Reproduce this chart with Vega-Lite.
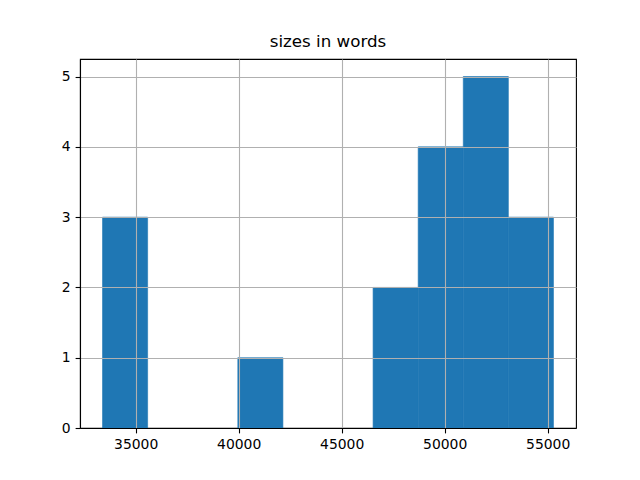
{
  "$schema": "https://vega.github.io/schema/vega-lite/v6.json",
  "width": 496,
  "height": 369,
  "autosize": {"type": "none"},
  "padding": {"left": 80, "top": 59, "right": 64, "bottom": 52},
  "background": "white",
  "config": {
    "font": "DejaVu Sans",
    "view": {"stroke": "black", "strokeWidth": 1.1}
  },
  "title": {
    "text": "sizes in words",
    "fontSize": 16.7,
    "fontWeight": "normal",
    "font": "DejaVu Sans",
    "color": "black",
    "anchor": "middle",
    "offset": 8
  },
  "data": {
    "values": [
      {"x0": 33390, "x1": 35579, "count": 3},
      {"x0": 35579, "x1": 37768, "count": 0},
      {"x0": 37768, "x1": 39957, "count": 0},
      {"x0": 39957, "x1": 42146, "count": 1},
      {"x0": 42146, "x1": 44335, "count": 0},
      {"x0": 44335, "x1": 46524, "count": 0},
      {"x0": 46524, "x1": 48713, "count": 2},
      {"x0": 48713, "x1": 50902, "count": 4},
      {"x0": 50902, "x1": 53091, "count": 5},
      {"x0": 53091, "x1": 55280, "count": 3}
    ]
  },
  "transform": [{"filter": "datum.count > 0"}],
  "mark": {"type": "rect", "color": "#1f77b4", "stroke": "#1f77b4", "strokeWidth": 0.6},
  "encoding": {
    "x": {
      "field": "x0",
      "type": "quantitative",
      "scale": {"domain": [32296, 56374], "nice": false, "zero": false},
      "axis": {
        "title": null,
        "values": [35000, 40000, 45000, 50000, 55000],
        "format": "d",
        "labelFont": "DejaVu Sans",
        "labelFontSize": 13.9,
        "labelColor": "black",
        "labelPadding": 5,
        "tickColor": "black",
        "tickSize": 4.9,
        "tickWidth": 1.1,
        "domainColor": "black",
        "domainWidth": 1.1,
        "grid": true,
        "gridColor": "#b0b0b0",
        "gridWidth": 1.1,
        "labelFlush": false,
        "zindex": 1
      }
    },
    "x2": {"field": "x1"},
    "y": {
      "field": "count",
      "type": "quantitative",
      "scale": {"domain": [0, 5.25], "nice": false},
      "axis": {
        "title": null,
        "values": [0, 1, 2, 3, 4, 5],
        "labelFont": "DejaVu Sans",
        "labelFontSize": 13.9,
        "labelColor": "black",
        "labelPadding": 5,
        "tickColor": "black",
        "tickSize": 4.9,
        "tickWidth": 1.1,
        "domainColor": "black",
        "domainWidth": 1.1,
        "grid": true,
        "gridColor": "#b0b0b0",
        "gridWidth": 1.1,
        "labelFlush": false,
        "zindex": 1
      }
    },
    "y2": {"datum": 0}
  }
}
